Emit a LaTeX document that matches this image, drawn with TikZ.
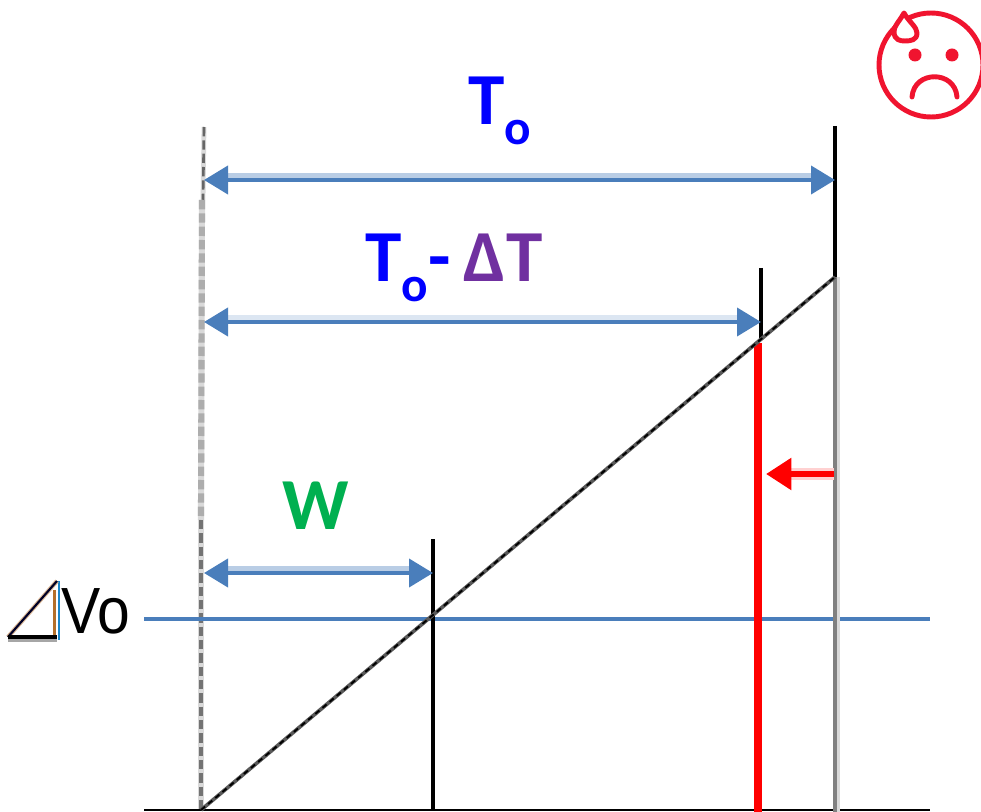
\documentclass[tikz,border=0pt]{standalone}
\usepackage{fontspec}
\setmainfont{Carlito}
\newfontfamily\vofont{Liberation Sans}
\usetikzlibrary{arrows.meta}
\definecolor{lineblue}{HTML}{4A7EBB}
\definecolor{halo}{HTML}{B9CDE5}
\definecolor{halolight}{HTML}{DCE6F2}
\definecolor{tblue}{HTML}{0000FF}
\definecolor{tpurple}{HTML}{7030A0}
\definecolor{tgreen}{HTML}{00B050}
\definecolor{facered}{HTML}{F0142F}
\definecolor{fringeb}{HTML}{B5702A}
\definecolor{fringec}{HTML}{1C86C8}
\tikzset{
  x=0.75pt,y=-0.75pt,
  dimline/.style={draw=lineblue,line width=3pt,{Triangle[length=18pt,width=21pt]}-{Triangle[length=18pt,width=21pt]}},
  halotrace/.style={draw=#1,line width=3.6pt},
  blk/.style={draw=black,line width=2.6pt},
  axis/.style={draw=black,line width=2pt},
  level/.style={draw=lineblue,line width=2.6pt},
  redbar/.style={draw=red,line width=5.6pt},
  greybar/.style={draw=gray,line width=3.6pt},
  ramp/.style={draw=black!65,line width=2.8pt},
  lab/.style={font=\bfseries\fontsize{55}{55}\selectfont,inner sep=0pt,anchor=base},
  face/.style={draw=facered,line width=3.7pt,line cap=round},
}
\newcommand{\subo}{\raisebox{-14.5pt}{\fontsize{37}{37}\selectfont o}}
\begin{document}
\begin{tikzpicture}
\useasboundingbox (0,0) rectangle (981,812);
% named points
\coordinate (origin) at (201,810);
\coordinate (leftTop) at (204,127);
\coordinate (leftA) at (203,200);
\coordinate (leftB) at (202,200);
\coordinate (leftC) at (201,520);
\coordinate (axisL) at (144,810);
\coordinate (axisR) at (930,810);
\coordinate (levelL) at (144,619);
\coordinate (levelR) at (930,619);
\coordinate (wBot) at (433,810);
\coordinate (wTop) at (433,539);
\coordinate (redBot) at (758,812);
\coordinate (redTop) at (758,343);
\coordinate (midTop) at (761,268);
\coordinate (midBot) at (761,340);
\coordinate (rampTop) at (835,277);
\coordinate (greyBot) at (835,812);
\coordinate (greyTopL) at (838.5,277);
\coordinate (greyBotL) at (838.5,812);
\coordinate (toTop) at (835,126);
% left boundary
\draw[draw=black!15,line width=3.6pt] (leftTop) -- (leftA);
\draw[draw=black!60,line width=2pt,dash pattern=on 7pt off 3pt] (leftTop) -- (leftA);
\draw[draw=black!15,line width=4.6pt] (leftB) -- (leftC);
\draw[draw=black!32,line width=4.6pt,dash pattern=on 7pt off 3pt] (leftB) -- (leftC);
\draw[draw=black!15,line width=4.6pt] (leftC) -- (origin);
\draw[draw=black!55,line width=2.4pt,dash pattern=on 7pt off 3pt] (leftC) -- (origin);
% axes and level
\draw[axis] (axisL) -- (axisR);
\draw[level] (levelL) -- (levelR);
% verticals
\draw[draw=black!15,line width=2pt] (greyTopL) -- (greyBotL);
\draw[greybar] (rampTop) -- (greyBot);
\draw[blk] (toTop) -- (rampTop);
\draw[blk] (midTop) -- (midBot);
\draw[blk] (wTop) -- (wBot);
\draw[redbar] (redTop) -- (redBot);
% ramp
\draw[ramp] (origin) -- (rampTop);
\draw[draw=black,line width=1.4pt,dash pattern=on 4pt off 3pt] (origin) -- (rampTop);
% dimensions
\coordinate (d1a) at (204,180); \coordinate (d1b) at (835,180);
\coordinate (d2a) at (204,322); \coordinate (d2b) at (761,322);
\coordinate (d3a) at (204,573); \coordinate (d3b) at (433,573);
\coordinate (h1a) at (222,175.5); \coordinate (h1b) at (815,175.5);
\coordinate (h2a) at (222,317.5); \coordinate (h2b) at (740,317.5);
\coordinate (h3a) at (222,568.5); \coordinate (h3b) at (413,568.5);
\draw[halotrace=halo] (h1a) -- (h1b);
\draw[halotrace=halolight] (h2a) -- (h2b);
\draw[halotrace=halo] (h3a) -- (h3b);
\draw[dimline] (d1a) -- (d1b);
\draw[dimline] (d2a) -- (d2b);
\draw[dimline] (d3a) -- (d3b);
% red arrow
\coordinate (ra) at (834,474); \coordinate (rb) at (766,474);
\coordinate (rh) at (785,474);
\draw[draw=red!18,line width=9pt] (ra) -- (rh);
\draw[draw=red,line width=5.2pt,-{Triangle[length=19pt,width=23pt]}] (ra) -- (rb);
% labels
\node[lab,text=tblue] (lto) at (500,125) {T\subo};
\node[lab] (ltodt) at (454,282) {\textcolor{tblue}{T\subo-}\hspace{10pt}\textcolor{tpurple}{ΔT}};
\node[lab,text=tgreen] (lw) at (316,529) {W};
\node[inner sep=0pt,anchor=base,xscale=0.9] (ldv) at (96,633) {\vofont\fontsize{49}{49}\selectfont Vo};
% delta V triangle
\coordinate (tA) at (8,637); \coordinate (tB) at (57,637); \coordinate (tC) at (57,581);
\coordinate (tD) at (59,581); \coordinate (tE) at (59,640); \coordinate (tF) at (8,640.5); \coordinate (tG) at (57,640.5);
\coordinate (tH) at (54.5,590); \coordinate (tJ) at (54.5,635);
\draw[draw=fringeb,line width=2.2pt] (tH) -- (tJ);
\draw[draw=fringec,line width=2.2pt] (tD) -- (tE);
\draw[draw=fringeb!50,line width=3.2pt] (tA) -- (tC);
\draw[draw=black!85!blue,line width=1.6pt] (tA) -- (tC);
\draw[draw=black!35,line width=2.4pt] (tF) -- (tG);
\draw[draw=black,line width=2.4pt] (tA) -- (tB);
% face
\coordinate (fc) at (931,65);
\draw[face] (fc) circle (52);
\fill[facered] (915,55) circle (6.5);
\fill[facered] (952,55) circle (6.5);
\draw[face] (912,97) .. controls (914,70) and (955,70) .. (957,97);
\draw[face,fill=white,line join=round] (904,13) .. controls (899,22) and (893,27) .. (894,33) .. controls (895,40) and (900,41) .. (905,41) .. controls (911,41) and (917,40) .. (917,33) .. controls (917,27) and (909,22) .. (904,13) -- cycle;
\end{tikzpicture}
\end{document}
